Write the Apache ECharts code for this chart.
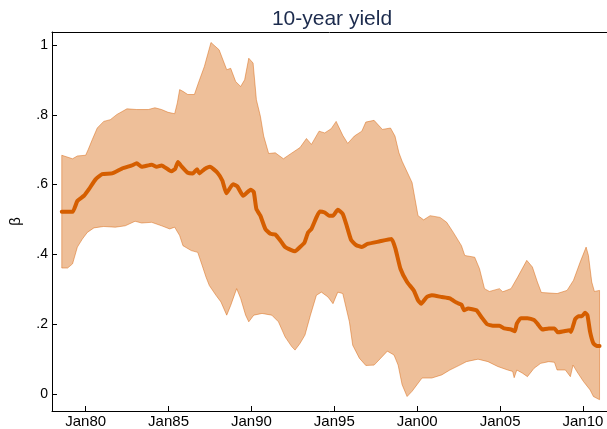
<!DOCTYPE html>
<html>
<head>
<meta charset="utf-8">
<script src="https://cdn.jsdelivr.net/npm/echarts@6/dist/echarts.min.js"></script>
<style>html,body{margin:0;padding:0;background:#fff;}#c{width:607px;height:429px;}</style>
</head>
<body>
<div id="c"></div>
<script>
// ---- data (decimal years, beta) ----
const midYears = [1978.56,1979.21,1979.50,1979.90,1980.20,1980.60,1981.00,1981.59,1982.19,1982.79,1983.08,1983.38,1983.98,1984.28,1984.58,1985.17,1985.41,1985.57,1985.77,1986.16,1986.46,1986.72,1986.86,1987.16,1987.50,1987.95,1988.25,1988.49,1988.89,1989.15,1989.50,1989.95,1990.14,1990.30,1990.54,1990.84,1991.14,1991.44,1991.74,1992.03,1992.37,1992.63,1992.93,1993.19,1993.42,1993.62,1993.92,1994.12,1994.42,1994.68,1994.92,1995.21,1995.51,1995.75,1996.01,1996.31,1996.66,1997.00,1997.70,1998.45,1998.69,1998.99,1999.39,1999.79,2000.05,2000.24,2000.58,2000.88,2001.48,2001.97,2002.37,2002.67,2002.83,2003.07,2003.57,2003.87,2004.22,2004.56,2004.96,2005.26,2005.66,2005.89,2006.01,2006.25,2006.65,2007.05,2007.25,2007.55,2007.94,2008.28,2008.48,2008.84,2009.19,2009.28,2009.53,2009.73,2009.93,2010.13,2010.27,2010.43,2010.63,2010.83,2011.00];
const midValues = [0.522,0.522,0.553,0.568,0.587,0.615,0.630,0.632,0.646,0.655,0.661,0.651,0.657,0.651,0.655,0.638,0.646,0.665,0.653,0.634,0.632,0.644,0.632,0.644,0.651,0.634,0.611,0.575,0.601,0.595,0.568,0.585,0.579,0.530,0.511,0.473,0.459,0.457,0.440,0.421,0.413,0.409,0.421,0.433,0.463,0.473,0.506,0.523,0.520,0.511,0.511,0.528,0.516,0.482,0.442,0.427,0.421,0.430,0.437,0.444,0.416,0.359,0.321,0.297,0.269,0.259,0.278,0.283,0.278,0.274,0.262,0.256,0.240,0.245,0.240,0.221,0.200,0.196,0.196,0.188,0.185,0.180,0.202,0.217,0.217,0.212,0.202,0.185,0.188,0.188,0.177,0.180,0.183,0.178,0.215,0.223,0.223,0.233,0.226,0.178,0.145,0.138,0.138];

const upperYears = [1978.56,1979.21,1979.50,1980.00,1980.16,1980.40,1980.70,1981.09,1981.49,1981.89,1982.49,1983.08,1983.78,1984.18,1984.58,1984.97,1985.37,1985.53,1985.67,1985.87,1986.16,1986.56,1986.80,1987.16,1987.56,1988.05,1988.51,1988.75,1989.05,1989.35,1989.59,1989.84,1990.10,1990.30,1990.54,1990.74,1991.04,1991.44,1991.93,1992.33,1992.93,1993.32,1993.62,1994.08,1994.42,1994.81,1995.11,1995.51,1995.81,1996.21,1996.66,1996.90,1997.40,1997.90,1998.39,1998.66,1998.90,1999.09,1999.69,2000.05,2000.39,2000.78,2001.38,2001.78,2002.18,2002.67,2002.87,2003.47,2003.76,2004.06,2004.36,2004.96,2005.16,2005.66,2006.06,2006.61,2006.95,2007.25,2007.49,2008.44,2009.04,2009.43,2009.83,2010.19,2010.33,2010.53,2010.69,2011.00];
const upperValues = [0.684,0.674,0.682,0.684,0.701,0.729,0.762,0.781,0.786,0.801,0.817,0.815,0.815,0.820,0.815,0.807,0.803,0.834,0.872,0.867,0.858,0.858,0.891,0.938,1.007,0.986,0.929,0.933,0.895,0.881,0.900,0.962,0.948,0.843,0.796,0.739,0.689,0.691,0.674,0.687,0.706,0.732,0.715,0.753,0.748,0.760,0.781,0.741,0.718,0.739,0.753,0.779,0.784,0.758,0.762,0.739,0.691,0.667,0.606,0.511,0.499,0.511,0.506,0.492,0.463,0.425,0.397,0.392,0.359,0.302,0.294,0.302,0.293,0.302,0.335,0.383,0.364,0.321,0.291,0.288,0.297,0.326,0.378,0.421,0.397,0.321,0.294,0.297];

const lowerYears = [1978.56,1978.91,1979.21,1979.50,1979.80,1980.10,1980.50,1981.09,1981.79,1982.39,1982.98,1983.38,1983.98,1984.58,1985.07,1985.37,1985.67,1985.87,1986.37,1986.76,1987.06,1987.26,1987.46,1987.86,1988.16,1988.51,1988.75,1989.11,1989.35,1989.65,1989.84,1990.14,1990.64,1991.23,1991.63,1992.03,1992.43,1992.63,1992.93,1993.23,1993.56,1993.92,1994.22,1994.62,1994.92,1995.21,1995.51,1995.91,1996.11,1996.51,1996.90,1997.40,1997.80,1998.20,1998.60,1998.85,1999.09,1999.39,1999.69,1999.99,2000.29,2000.88,2001.48,2001.97,2002.57,2002.97,2003.67,2004.27,2004.86,2005.46,2005.76,2005.85,2006.01,2006.35,2006.65,2007.05,2007.45,2007.94,2008.28,2008.44,2008.94,2009.24,2009.40,2009.64,2010.03,2010.43,2010.63,2011.00];
const lowerValues = [0.361,0.361,0.373,0.421,0.444,0.463,0.476,0.480,0.478,0.482,0.495,0.490,0.492,0.482,0.473,0.478,0.454,0.425,0.411,0.406,0.364,0.335,0.311,0.283,0.264,0.226,0.254,0.302,0.274,0.226,0.207,0.226,0.231,0.226,0.207,0.164,0.136,0.126,0.145,0.169,0.226,0.283,0.292,0.278,0.259,0.292,0.288,0.207,0.140,0.103,0.082,0.083,0.103,0.123,0.112,0.083,0.027,-0.007,0.008,0.027,0.046,0.046,0.055,0.069,0.083,0.093,0.100,0.093,0.079,0.069,0.065,0.047,0.069,0.060,0.050,0.074,0.088,0.093,0.091,0.069,0.069,0.050,0.083,0.064,0.036,0.012,-0.007,-0.016];

const xTickValues = [1980,1985,1990,1995,2000,2005,2010];
const xTickLabels = ['Jan80','Jan85','Jan90','Jan95','Jan00','Jan05','Jan10'];
const yTickValues = [0,0.2,0.4,0.6,0.8,1];
const yTickLabels = ['0','.2','.4','.6','.8','1'];

const FONT = '"Liberation Sans", Arial, Helvetica, sans-serif';
const chart = echarts.init(document.getElementById('c'), null, {renderer:'canvas'});

const xMin = 1977.97, xMax = 2011.45;
const yMin = -0.0484, yMax = 1.037;

chart.setOption({
  animation: false,
  backgroundColor: '#ffffff',
  title: {
    text: '10-year yield',
    left: 327, top: 4, textAlign: 'center',
    textStyle: {color:'#1c2b4d', fontSize:21, fontWeight:'normal', fontFamily: FONT}
  },
  grid: {left:46, right:0, top:32, bottom:16, containLabel:false},
  xAxis: [{
    type:'value', min:xMin, max:xMax,
    axisLine:{show:true, onZero:false, lineStyle:{color:'#000', width:1}},
    axisTick:{show:true, inside:true, length:5, customValues: xTickValues, lineStyle:{color:'#000'}},
    axisLabel:{show:true, customValues: xTickValues, margin:3, color:'#000', fontSize:15, fontFamily:FONT,
      formatter: v => xTickLabels[xTickValues.indexOf(Math.round(v))] || ''},
    splitLine:{show:false}
  },{
    type:'value', position:'top', min:xMin, max:xMax,
    axisLine:{show:true, onZero:false, lineStyle:{color:'#000', width:1}},
    axisTick:{show:false}, axisLabel:{show:false}, splitLine:{show:false}
  }],
  yAxis: {
    type:'value', min:yMin, max:yMax,
    name:'β', nameLocation:'middle', nameGap:29, nameRotate:90,
    nameTextStyle:{color:'#000', fontSize:15, fontFamily:FONT},
    axisLine:{show:true, onZero:false, lineStyle:{color:'#000', width:1}},
    axisTick:{show:true, inside:true, length:5, customValues: yTickValues, lineStyle:{color:'#000'}},
    axisLabel:{show:true, customValues: yTickValues, margin:4, color:'#000', fontSize:14, fontFamily:FONT,
      formatter: v => { let i = yTickValues.findIndex(t => Math.abs(t - v) < 1e-6); return i >= 0 ? yTickLabels[i] : ''; }},
    splitLine:{show:false}
  },
  series: [{
    type:'custom',
    name:'band',
    z:1,
    clip:true,
    data:[[upperYears[0], upperValues[0]]],
    renderItem: function(params, api) {
      const pts = [];
      for (let i = 0; i < upperYears.length; i++) pts.push(api.coord([upperYears[i], upperValues[i]]));
      for (let i = lowerYears.length - 1; i >= 0; i--) pts.push(api.coord([lowerYears[i], lowerValues[i]]));
      return {type:'polygon', shape:{points:pts}, style:{fill:'rgba(213,94,0,0.4)', stroke:'rgba(213,94,0,0.45)', lineWidth:1}};
    }
  },{
    type:'line',
    name:'beta',
    z:3,
    data: midYears.map((x,i) => [x, midValues[i]]),
    showSymbol:false,
    smooth:0.15,
    lineStyle:{color:'#D55E00', width:4, cap:'round', join:'round'}
  }]
});
</script>
</body>
</html>
